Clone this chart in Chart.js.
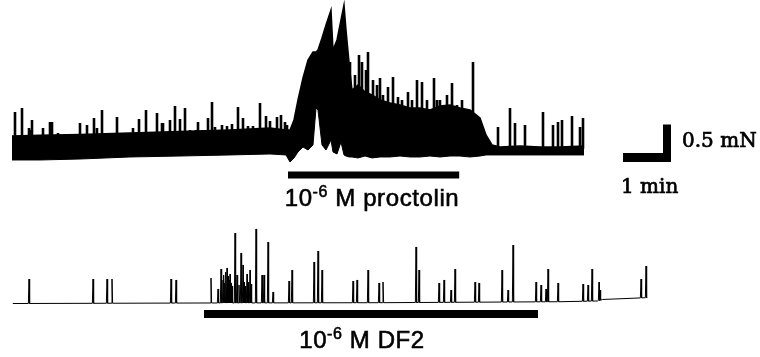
<!DOCTYPE html>
<html><head><meta charset="utf-8">
<script src="https://cdn.jsdelivr.net/npm/chart.js@4/dist/chart.umd.min.js"></script>
<style>
html,body{margin:0;padding:0;background:#fff;}
#wrap{position:relative;width:760px;height:357px;overflow:hidden;background:#fff;}
canvas{position:absolute;left:0;top:0;}
.lbl{position:absolute;white-space:nowrap;color:#000;}
.sans{font-family:"Liberation Sans",Arial,sans-serif;font-size:24px;line-height:24px;letter-spacing:0.6px;-webkit-text-stroke:0.6px #000;}
.serif{font-family:"DejaVu Serif",serif;font-size:20px;line-height:20px;-webkit-text-stroke:0.7px #000;}
.sup{font-size:16px;position:relative;top:-9px;}
</style></head><body>
<div id="wrap">
<canvas id="c" width="760" height="357"></canvas>
<div class="lbl sans" style="left:222px;width:300px;text-align:center;top:186px">10<span class="sup">-6</span> M proctolin</div>
<div class="lbl sans" style="left:212px;width:300px;text-align:center;top:328px">10<span class="sup">-6</span> M DF2</div>
<div class="lbl serif" style="left:682px;top:130px">0.5 mN</div>
<div class="lbl serif" style="left:621px;top:176px">1 min</div>
</div>
<script>
// ---- time in s, force in mN ----
// Top trace (proctolin): dense band envelope
const ENV_T  = [15,50,100,162.5,225,287.5,337.5,357.5,362.5,367.5,372.5,378.75,385,391.25,395,397.5,402.5,407.5,413.75,416.25,421.25,426.25,430,432.5,436.25,440,447.5,456.25,465,475,487.5,500,512.5,525,537.5,550,562.5,575,587.5,600,607.5,615,625,650,675,700,730];
const ENV_LO = [0,0,0.013,0.04,0.053,0.067,0.08,0.067,-0.027,0.027,0.107,0.173,0.133,0.2,0.693,0.667,0.2,0.133,0.267,0.107,0.08,0.24,0.067,0.053,0.04,0.04,0.027,0.053,0.027,0.04,0.04,0.053,0.04,0.04,0.053,0.04,0.053,0.053,0.04,0.053,0.067,0.067,0.067,0.067,0.067,0.067,0.067];
const ENV_HI = [0.32,0.33,0.34,0.36,0.38,0.4,0.427,0.4,0.4,0.533,0.8,1.093,1.333,1.44,1.44,1.467,1.627,1.8,2.0,1.467,1.6,1.867,2.067,1.733,1.307,0.933,1.0,0.907,0.867,0.8,0.76,0.733,0.693,0.693,0.667,0.72,0.733,0.693,0.667,0.56,0.333,0.2,0.173,0.187,0.173,0.173,0.187];
// Top trace contraction spikes
const TOP_SPK_T = [18.75,27.5,36.25,38.75,40,53.75,62.5,65,72.5,87.5,93.75,100,108.75,117.5,121.25,127.5,140,146.25,151.25,158.75,166.25,173.75,182.5,196.25,202.5,203.75,212.5,218.75,225,231.25,237.5,245,247.5,253.75,260,265,268.75,277.5,283.75,290,297.5,303.75,310,316.25,325,332.5,337.5,346.25,351.25,356.25,358.75,373.75,437.5,443.75,448.75,452.5,457.5,460,466.25,471.25,475,478.75,485,491.25,497.5,502.5,510,515,521.25,527.5,533.75,542.5,546.25,550,558.75,565,571.25,577.5,583.75,591.25,622.5,637.5,643.75,656.25,678.75,691.25,697.5,702.5,715,725,728.75];
const TOP_SPK_F = [0.64,0.693,0.427,0.4,0.533,0.427,0.507,0.507,0.36,0.347,0.347,0.493,0.467,0.56,0.427,0.667,0.333,0.573,0.36,0.36,0.427,0.547,0.667,0.627,0.493,0.493,0.533,0.72,0.547,0.693,0.4,0.4,0.507,0.4,0.56,0.773,0.44,0.467,0.453,0.48,0.707,0.56,0.453,0.453,0.76,0.587,0.52,0.573,0.6,0.507,0.467,0.627,1.307,1.133,1.4,1.307,1.2,1.44,1.067,1.0,1.093,0.867,0.973,1.107,0.84,0.8,0.907,0.8,1.067,1.04,0.8,1.093,0.8,0.8,0.867,1.027,0.733,0.8,0.6,1.307,0.44,0.693,0.493,0.467,0.64,0.467,0.507,0.533,0.587,0.44,0.56];
// Bottom trace (DF2): baseline and spikes
const BOT_BASE_T = [16,250,475,700,747,753,809];
const BOT_BASE_F = [-0.007,0,0.004,0.017,0.027,0.047,0.071];
const BOT_SPK_T = [36.25,116.25,133.75,140,213.75,220,263.75,272.5,276.25,278.75,280,281.25,282.5,283.75,285,286.25,287.5,288.75,290,293.75,296.25,298.75,301.25,303.75,305,306.25,308.75,310,312.5,313.75,320,327.5,330,335,341.25,361.25,365,392.5,397.5,402.5,441.25,446.25,460,473.75,478.75,520,523.75,548.75,555,563.75,568.75,593.75,598.75,627.5,635,641.25,670,676.25,682.5,685,697.5,728.75,735,740,748.75,750,801.25,807.5];
const BOT_SPK_F = [0.32,0.32,0.32,0.32,0.32,0.307,0.333,0.187,0.453,0.307,0.373,0.267,0.413,0.467,0.36,0.307,0.387,0.267,0.227,0.933,0.373,0.24,0.667,0.507,0.28,0.227,0.387,0.28,0.44,0.253,0.987,0.373,0.373,0.813,0.147,0.293,0.44,0.547,0.693,0.44,0.293,0.307,0.44,0.267,0.28,0.747,0.44,0.267,0.307,0.173,0.453,0.28,0.267,0.44,0.173,0.773,0.28,0.24,0.187,0.453,0.267,0.253,0.24,0.453,0.28,0.173,0.32,0.493];
// Drug application periods (s)
const PROCTOLIN_ON = [360, 574];
const DF2_ON = [255, 672.5];
// Scale bar
const SCALE_S = 60, SCALE_MN = 0.5;

// ---- layout (axis ranges and trace offsets) ----
const X_MAX = 950, Y_MAX = 4.76;
const TOP_OFF = 2.627, BOT_OFF = 0.72, SPIKE_FOOT = 0.15;
const PBAR_Y = 2.427, DBAR_Y = 0.573;
const SB_X0 = 778.75, SB_Y0 = 2.6;

const lower = ENV_T.map((t,i)=>({x:t, y:TOP_OFF+ENV_LO[i]}));
const upper = ENV_T.map((t,i)=>({x:t, y:TOP_OFF+ENV_HI[i]}));
const topSpikes = [];
TOP_SPK_T.forEach((t,i)=>{
  topSpikes.push({x:t, y:TOP_OFF+SPIKE_FOOT},{x:t, y:TOP_OFF+TOP_SPK_F[i]},{x:t, y:null});
});
function baseAt(t){
  if (t<=BOT_BASE_T[0]) return BOT_BASE_F[0];
  for (let i=1;i<BOT_BASE_T.length;i++){
    if (t<=BOT_BASE_T[i]){
      const a=BOT_BASE_T[i-1], b=BOT_BASE_T[i];
      return BOT_BASE_F[i-1]+(BOT_BASE_F[i]-BOT_BASE_F[i-1])*(t-a)/(b-a);
    }
  }
  return BOT_BASE_F[BOT_BASE_F.length-1];
}
const ev = [];
BOT_BASE_T.forEach((t,i)=>ev.push({t:t, pts:[{x:t, y:BOT_OFF+BOT_BASE_F[i]}]}));
const HW = 0.8;
BOT_SPK_T.forEach((t,i)=>{
  const b = baseAt(t);
  ev.push({t:t, pts:[{x:t-HW, y:BOT_OFF+b},{x:t, y:BOT_OFF+BOT_SPK_F[i]},{x:t+HW, y:BOT_OFF+b}]});
});
ev.sort((a,b)=>a.t-b.t);
const bottom = [];
ev.forEach(e=>e.pts.forEach(p=>bottom.push(p)));

const sbH = [{x:SB_X0, y:SB_Y0+0.06},{x:SB_X0+SCALE_S, y:SB_Y0+0.06}];
const sbV = [{x:SB_X0+SCALE_S-5, y:SB_Y0},{x:SB_X0+SCALE_S-5, y:SB_Y0+SCALE_MN}];

const blk = '#000';
new Chart(document.getElementById('c'), {
  type:'line',
  data:{datasets:[
    {data:lower, borderColor:blk, borderWidth:1, fill:false},
    {data:upper, borderColor:blk, borderWidth:1.5, fill:'-1', backgroundColor:blk},
    {data:topSpikes, borderColor:blk, borderWidth:2.6, fill:false, spanGaps:false},
    {data:bottom, borderColor:blk, borderWidth:1, fill:false},
    {data:[{x:PROCTOLIN_ON[0],y:PBAR_Y},{x:PROCTOLIN_ON[1],y:PBAR_Y}], borderColor:blk, borderWidth:7, borderCapStyle:'butt', fill:false},
    {data:[{x:DF2_ON[0],y:DBAR_Y},{x:DF2_ON[1],y:DBAR_Y}], borderColor:blk, borderWidth:8, borderCapStyle:'butt', fill:false},
    {data:sbH, borderColor:blk, borderWidth:9, borderCapStyle:'butt', fill:false},
    {data:sbV, borderColor:blk, borderWidth:8, borderCapStyle:'butt', fill:false}
  ]},
  options:{
    responsive:false, animation:false, devicePixelRatio:1,
    layout:{padding:0},
    elements:{point:{radius:0, hoverRadius:0}, line:{tension:0}},
    plugins:{legend:{display:false}, tooltip:{enabled:false}},
    events:[],
    scales:{
      x:{type:'linear', min:0, max:X_MAX, display:false},
      y:{type:'linear', min:0, max:Y_MAX, display:false}
    }
  }
});
</script>
</body></html>
